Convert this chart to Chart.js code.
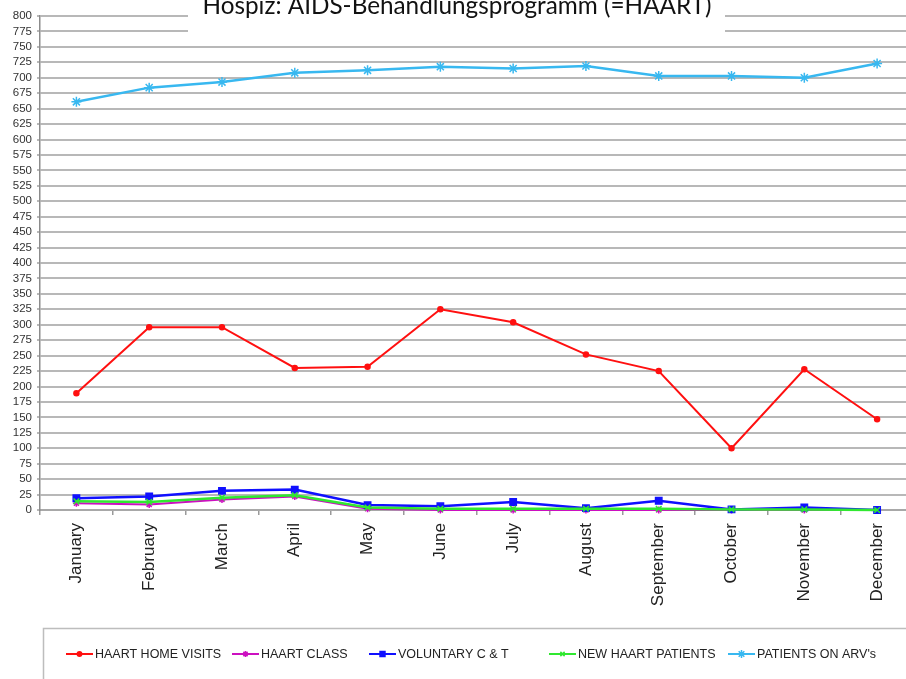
<!DOCTYPE html>
<html>
<head>
<meta charset="utf-8">
<script src="https://cdn.jsdelivr.net/npm/chart.js@4/dist/chart.umd.min.js"></script>
<style>
html,body{margin:0;padding:0;background:#fff;overflow:hidden;width:906px;height:679px;}
canvas{display:block;}
</style>
</head>
<body>
<canvas id="c" width="920" height="679"></canvas>
<script>
const titleText = "Hospiz: AIDS-Behandlungsprogramm (=HAART)";
const months = ["January","February","March","April","May","June","July","August","September","October","November","December"];
const seriesNames = ["HAART HOME VISITS","HAART CLASS","VOLUNTARY C & T","NEW HAART PATIENTS","PATIENTS ON ARV's"];
const homeVisits = [189, 296, 296, 230, 232, 325, 304, 252, 225, 100, 228, 147];
const haartClass = [11, 9, 17, 22, 2, 0, 0, 0, 0, 0, 0, 0];
const voluntaryCT = [19, 22, 31, 33, 8, 6, 13, 3, 15, 1, 4, 0];
const newPatients = [14, 13, 20, 24, 4, 2, 2, 2, 2, 1, 1, 0];
const onARVs = [661, 684, 693, 708, 712, 718, 715, 719, 703, 703, 700, 723];
const yMin = 0, yMax = 800, yStep = 25;

const styles = [
  {color:'#ff1010', point:'circle', r:2.5, lr:2.2, w:2, order:5},
  {color:'#cc10c0', point:'star', r:3.5, lr:3, w:2, order:4},
  {color:'#1010ff', point:'rect', r:4.5, lr:3.5, w:2.5, order:3},
  {color:'#30e830', point:'crossRot', r:4, lr:3, w:2.5, order:2},
  {color:'#38b8f0', point:'star', r:5, lr:4, w:2.5, order:1}
];
const allSeries = [homeVisits, haartClass, voluntaryCT, newPatients, onARVs];

const datasets = allSeries.map((d,i)=>({
  label: seriesNames[i],
  data: d,
  borderColor: styles[i].color,
  backgroundColor: styles[i].color,
  pointBorderColor: styles[i].color,
  pointBackgroundColor: styles[i].color,
  pointStyle: styles[i].point,
  pointRadius: styles[i].r,
  pointBorderWidth: 1.5,
  borderWidth: styles[i].w,
  tension: 0,
  order: styles[i].order,
  clip: false
}));

const bgPlugin = {
  id:'bg',
  beforeDraw(chart){
    const ctx = chart.ctx;
    ctx.save();
    ctx.fillStyle = '#fff';
    ctx.fillRect(0,0,chart.width,chart.height);
    ctx.restore();
  }
};

function drawMarker(ctx, style, r, x, y, color){
  ctx.save();
  ctx.fillStyle = color; ctx.strokeStyle = color; ctx.lineWidth = 1.5;
  if (Chart.helpers && Chart.helpers.drawPoint) {
    Chart.helpers.drawPoint(ctx, {pointStyle: style, radius: r, borderWidth: 1.5, rotation: 0}, x, y);
    ctx.fill();
  } else {
    ctx.beginPath(); ctx.arc(x,y,r,0,Math.PI*2); ctx.fill();
  }
  ctx.restore();
}

const overlayPlugin = {
  id:'overlay',
  afterDraw(chart){
    const ctx = chart.ctx;
    ctx.save();
    // title box
    ctx.fillStyle = '#fff';
    ctx.fillRect(188, 0, 537, 36);
    ctx.fillStyle = '#111';
    ctx.font = '24.3px Lato, "Open Sans", sans-serif';
    ctx.textAlign = 'center';
    ctx.textBaseline = 'alphabetic';
    ctx.fillText(titleText, 457, 14);
    // legend box
    ctx.strokeStyle = '#bdbdbd';
    ctx.lineWidth = 1.5;
    ctx.strokeRect(43.5, 628.5, 900, 100);
    const starts = [66, 232, 369, 549, 728];
    const ly = 654;
    chart.data.datasets.forEach((ds,i)=>{
      const x0 = starts[i];
      ctx.strokeStyle = ds.borderColor;
      ctx.lineWidth = 2;
      ctx.beginPath(); ctx.moveTo(x0, ly); ctx.lineTo(x0+27, ly); ctx.stroke();
      drawMarker(ctx, ds.pointStyle, styles[i].lr, x0+13.5, ly, ds.borderColor);
      ctx.fillStyle = '#222';
      ctx.font = '12.5px "Liberation Sans", Arial, sans-serif';
      ctx.textAlign = 'left';
      ctx.textBaseline = 'middle';
      ctx.fillText(ds.label, x0+29, ly+0.5);
    });
    ctx.restore();
  }
};

new Chart(document.getElementById('c'), {
  type:'line',
  data:{ labels: months, datasets },
  plugins:[bgPlugin, overlayPlugin],
  options:{
    responsive:false,
    animation:false,
    devicePixelRatio:1,
    layout:{ padding:{ left:0, right:6, top:16, bottom:0 } },
    plugins:{ legend:{display:false}, title:{display:false}, tooltip:{enabled:false} },
    scales:{
      x:{
        offset:true,
        grid:{ display:true, drawOnChartArea:false, drawTicks:true, tickLength:5, color:'#9a9a9a', lineWidth:1.5, offset:true },
        border:{ display:true, color:'#a8a8a8', width:2 },
        ticks:{ minRotation:90, maxRotation:90, autoSkip:false, padding:8, color:'#222',
          font:{ family:'"Liberation Sans", Arial, sans-serif', size:17 } },
        afterFit(s){ s.height = 679 - 510; }
      },
      y:{
        min:yMin, max:yMax,
        grid:{ color:'#b8b8b8', lineWidth:2, drawTicks:true, tickLength:3 },
        border:{ display:true, color:'#8c8c8c', width:1.5 },
        ticks:{ stepSize:yStep, autoSkip:false, padding:5, color:'#333',
          font:{ family:'"Liberation Sans", Arial, sans-serif', size:11.5 } },
        afterFit(s){ s.width = 40; }
      }
    }
  }
});
</script>
</body>
</html>
